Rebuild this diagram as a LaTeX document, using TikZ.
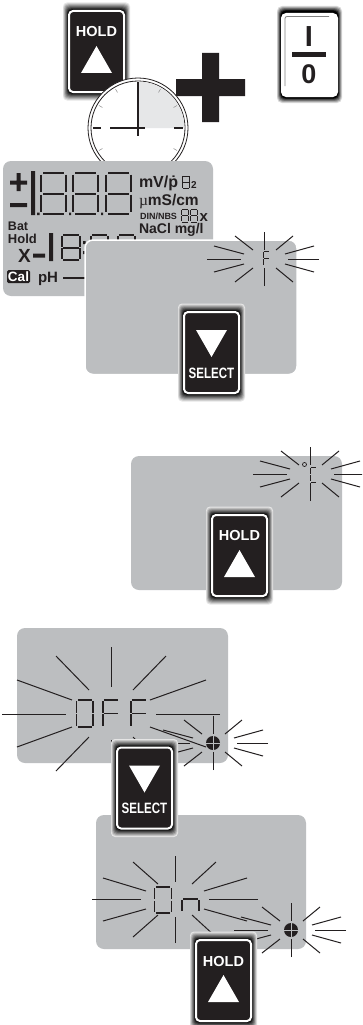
\documentclass[tikz,border=0pt]{standalone}
\usepackage{fontspec}
\setmainfont{Liberation Sans}
\newfontfamily\serifmu{Liberation Serif}
\definecolor{ink}{HTML}{231F20}
\definecolor{lcd}{HTML}{BCBEC0}
\definecolor{quad}{HTML}{E6E7E8}
\newcommand{\fpx}[1]{\fontsize{#1pt}{#1pt}\selectfont\bfseries}
\tikzset{
  lbl/.style={inner sep=0pt,outer sep=0pt,text=ink,anchor=base west},
  btntxt/.style={inner sep=0pt,outer sep=0pt,text=white},
  lcdpanel/.style={fill=lcd,rounded corners=8pt},
  ray/.style={draw=ink,line width=1pt},
  seg/.style={draw=ink,line width=1.5pt},
  bigseg/.style={draw=ink,line width=2pt},
  thinseg/.style={draw=ink,line width=1pt}
}
% seven segment digit: x y w h style list
\newcommand{\sega}[5]{\draw[#5] ({#1+0.08*#3},{#2}) -- ({#1+0.92*#3},{#2});}
\newcommand{\segb}[5]{\draw[#5] ({#1+#3},{#2+0.04*#4}) -- ({#1+#3},{#2+0.47*#4});}
\newcommand{\segc}[5]{\draw[#5] ({#1+#3},{#2+0.53*#4}) -- ({#1+#3},{#2+0.96*#4});}
\newcommand{\segd}[5]{\draw[#5] ({#1+0.08*#3},{#2+#4}) -- ({#1+0.92*#3},{#2+#4});}
\newcommand{\sege}[5]{\draw[#5] ({#1},{#2+0.53*#4}) -- ({#1},{#2+0.96*#4});}
\newcommand{\segf}[5]{\draw[#5] ({#1},{#2+0.04*#4}) -- ({#1},{#2+0.47*#4});}
\newcommand{\segg}[5]{\draw[#5] ({#1+0.08*#3},{#2+#4/2}) -- ({#1+0.92*#3},{#2+#4/2});}
\newcommand{\digit}[6]{\foreach \s in {#6}{\csname seg\s\endcsname{#1}{#2}{#3}{#4}{#5}}}
\newcommand{\btnbase}[2]{%
  \foreach \i in {0,...,7}{%
    \pgfmathsetmacro\hh{33.5-0.7*\i}%
    \pgfmathsetmacro\vv{49-1*\i}%
    \pgfmathtruncatemacro\cc{10+12.5*\i}%
    \fill[black!\cc,rounded corners=4pt] ({#1-\hh},{#2-\vv}) rectangle ({#1+\hh},{#2+\vv});
  }%
  \draw[white,fill=ink,line width=2pt,rounded corners=4pt] ({#1-27.5},{#2-40.5}) rectangle ({#1+27.5},{#2+40.5});
}
\newcommand{\holdbtn}[3]{%
  \btnbase{#2}{#3}
  \node[btntxt,font=\fpx{14.5}] (#1) at ({#2},{#3-19.5}) {HOLD};
  \fill[white] ({#2},{#3-5.5}) -- ({#2+15.5},{#3+21.5}) -- ({#2-15.5},{#3+21.5}) -- cycle;
}
\newcommand{\selbtn}[3]{%
  \btnbase{#2}{#3}
  \node[btntxt,font=\fpx{15},xscale=.77] (#1) at ({#2},{#3+20.5}) {SELECT};
  \fill[white] ({#2-15.5},{#3-22.5}) -- ({#2+15.5},{#3-22.5}) -- ({#2},{#3+4.5}) -- cycle;
}
\newcommand{\burst}[2]{%
  \foreach \a/\b/\c/\d in {0/-27/0/-9, 0/27/0/9, -29/-23/-11/-9, 29/-23/12/-9, -29/23/-11/9, 29/23/12/9,
     -50/-13/-20/-5, 50/-13/21/-5, -50/13/-20/5, 50/13/21/5, -57/0/-23/0, 55/0/24/0}{%
    \draw[ray] ({#1+\a},{#2+\b}) -- ({#1+\c},{#2+\d});
  }%
}
\newcommand{\crosshair}[2]{%
  \fill[ink] (#1,#2) circle (7pt);
  \draw[lcd,line width=.8pt] ({#1-7},{#2}) -- ({#1+7},{#2}) ({#1},{#2-7}) -- ({#1},{#2+7});
}
\begin{document}
\begin{tikzpicture}[x=1pt,y=-1pt]
\useasboundingbox (0,0) rectangle (362,1025);
\clip (0,0) rectangle (362,1025);
\fill[white] (0,0) rectangle (362,1025);
% top row
\holdbtn{holdA}{96.5}{51.5}
\fill[ink] (202,53) rectangle (219,122) (176,79) rectangle (245,96);
% power button
\foreach \i in {0,...,5}{%
  \pgfmathsetmacro\hh{32.5-0.7*\i}%
  \pgfmathsetmacro\vv{48.5-0.9*\i}%
  \pgfmathtruncatemacro\cc{15+17*\i}%
  \fill[black!\cc,rounded corners=5pt] ({309.5-\hh},{54.5-\vv}) rectangle ({309.5+\hh},{54.5+\vv});
}
\fill[white,rounded corners=5pt] (281,13) rectangle (338,97);
\draw[gray,line width=.8pt,rounded corners=2pt] (285,86) -- (285,16.5) -- (329,16.5);
\node[lbl,anchor=center,font=\fpx{29}] (powI) at (309,37) {I};
\fill[ink] (292,52.5) rectangle (326,57);
\node[lbl,anchor=center,font=\fpx{27}] (powO) at (309,74.5) {0};
% clock
\fill[white,draw=ink,line width=.8pt] (138,128) circle (50pt);
\draw[ink,line width=.8pt] (138,128) circle (47pt);
\fill[quad] (138,128) -- (138,81.5) arc[start angle=90,end angle=0,radius=46.5pt] -- cycle;
\foreach \t in {30,60,120,150,210,240,300,330}{%
  \draw[black!45,line width=.5pt] ({138+41*cos(\t)},{128-41*sin(\t)}) -- ({138+45*cos(\t)},{128-45*sin(\t)});
}
\draw[ink,line width=1.4pt] (138,82) -- (138,136);
\draw[ink,line width=1.8pt] (110,128) -- (145,128);
\draw[ink,line width=1.6pt] (93,128) -- (101,128) (174,128) -- (183,128);
% LCD 1
\fill[lcdpanel] (3,161) rectangle (213,296);
\fill[ink] (10,180.5) rectangle (27,184.5) (16.5,173) rectangle (20.5,191) (10,203) rectangle (27,207);
\fill[ink] (31,171) rectangle (35,215) (37,212.5) rectangle (39.5,215);
\digit{41}{173}{25}{41}{bigseg}{a,b,c,d,e,f,g}
\digit{73}{173}{25}{41}{bigseg}{a,b,c,d,e,f,g}
\fill[ink] (69,212.5) rectangle (71,215) (101,212.5) rectangle (103,215);
\digit{106}{173}{25}{41}{bigseg}{a,b,c,d,e,f,g}
\node[lbl,font=\fpx{16}] (mv) at (139,187) {mV/ṗ};
\digit{182.5}{176}{7}{12}{thinseg}{a,b,c,d,e,f,g}
\node[lbl,font=\fpx{10}] (two) at (191,188) {2};
\node[lbl,font=\fpx{15.5}] (ms) at (139,205) {{\serifmu\mdseries µ}mS/cm};
\node[lbl,font=\fpx{9}] (din) at (140,219) {DIN/NBS};
\digit{181.5}{209}{7}{13}{thinseg}{a,b,c,d,e,f,g}
\digit{190.5}{209}{7}{13}{thinseg}{a,b,c,d,e,f,g}
\node[lbl,font=\fpx{15}] (xs) at (199.5,221.5) {x};
\node[lbl,font=\fpx{14}] (nacl) at (139,233.5) {NaCl mg/l};
\node[lbl,font=\fpx{12.5}] (bat) at (8,230) {Bat};
\node[lbl,font=\fpx{13}] (hold) at (8,243.5) {Hold};
\node[lbl,font=\fpx{19}] (xb) at (18,262) {X};
\fill[ink] (33,253.5) rectangle (45,257.5) (49,233) rectangle (53,261);
\digit{62}{235}{18}{25}{bigseg}{a,b,c,d,e,f,g}
\fill[ink] (83,241) rectangle (85.5,244) (83,251) rectangle (85.5,254);
\digit{91}{235}{17}{25}{bigseg}{a,b,c,d,e,f,g}
\digit{118}{235}{17}{25}{bigseg}{a,b,c,d,e,f,g}
\fill[ink,rounded corners=1.5pt] (7,270) rectangle (30,283);
\node[lbl,text=white,font=\fpx{13.5}] (cal) at (8,281) {Cal};
\node[lbl,font=\fpx{15}] (ph) at (38,282) {pH};
\fill[ink] (63,276.5) rectangle (85,279);
% LCD 2
\draw[lcdpanel,draw=white,line width=1.5pt] (85,240) rectangle (297,374.5);
\burst{264}{259}
\digit{263.5}{251}{6.5}{15}{thinseg}{a,e,f,g}
\selbtn{selA}{211.5}{352.5}
% LCD 3
\fill[lcdpanel] (131,456) rectangle (342,590);
\burst{310}{474}
\draw[ink,line width=.7pt] (304.5,464.5) circle (2pt);
\digit{310}{467}{6.5}{15}{thinseg}{a,d,e,f}
\holdbtn{holdB}{239.5}{555.5}
% LCD 4
\fill[lcdpanel] (17,628) rectangle (228,763);
\foreach \a/\b/\c/\d in {111/647/111/687, 111/780/111/740, 56/656/89/690, 166/656/133/690, 56/771/89/737, 166/771/133/737,
    17/680/72/700, 206/680/150/700, 17/747/72/727, 206/747/150/727, 2/714/66/714, 220/714/156/714}{%
  \draw[ray] (\a,\b) -- (\c,\d);
}
\digit{76.5}{700}{16.5}{27}{seg}{a,b,c,d,e,f}
\digit{103}{700}{16.5}{27}{seg}{a,e,f,g}
\digit{131}{700}{16.5}{27}{seg}{a,e,f,g}
\burst{213}{743}
\crosshair{213}{743}
% LCD 5
\fill[lcdpanel] (96,815) rectangle (306,949);
\selbtn{selB}{144.5}{788}
\foreach \a/\b/\c/\d in {175/856/175/882, 175/943/175/917, 133/862/158/884, 216/862/192/884, 133/937/158/915, 216/937/192/915,
    103/878/146/891, 247/878/204/891, 103/921/146/909, 247/921/204/909, 92/899/141/899, 258/899/209/899}{%
  \draw[ray] (\a,\b) -- (\c,\d);
}
\digit{154.5}{887}{17}{26}{seg}{a,b,c,d,e,f}
\digit{182}{886}{17}{26}{seg}{c,e,g}
\burst{291}{930}
\crosshair{291}{930}
\holdbtn{holdC}{223.5}{980.5}
\end{tikzpicture}
\end{document}
